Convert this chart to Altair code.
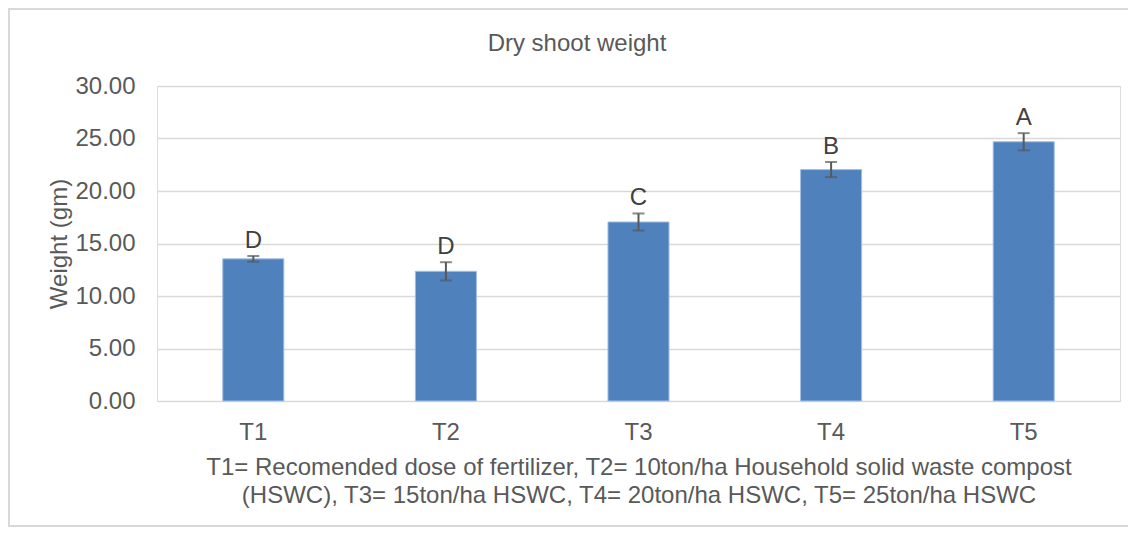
import altair as alt
import pandas as pd

treatments = ["T1", "T2", "T3", "T4", "T5"]
means = [13.54, 12.35, 17.05, 22.04, 24.69]
errors = [0.27, 0.87, 0.81, 0.72, 0.82]
letters = ["D", "D", "C", "B", "A"]
y_ticks = [0, 5, 10, 15, 20, 25, 30]
chart_title = "Dry shoot weight"
footer = [
    "T1= Recomended dose of fertilizer, T2= 10ton/ha Household solid waste compost",
    "(HSWC), T3= 15ton/ha HSWC, T4= 20ton/ha HSWC, T5= 25ton/ha HSWC",
]

df = pd.DataFrame({
    "t": treatments,
    "m": means,
    "e": errors,
    "lab": letters,
})
df["lo"] = df["m"] - df["e"]
df["hi"] = df["m"] + df["e"]

FONT = "Liberation Sans"
GREY = "#595959"
FS = 24

x_enc = alt.X(
    "t:N",
    sort=treatments,
    scale=alt.Scale(paddingInner=0.683, paddingOuter=0.3415),
    axis=alt.Axis(
        title=footer,
        labelAngle=0,
        ticks=False,
        domain=False,
        labelFontSize=FS,
        labelColor=GREY,
        labelFont=FONT,
        labelPadding=19,
        titleFontSize=FS,
        titleColor=GREY,
        titleFont=FONT,
        titleFontWeight="normal",
        titlePadding=11,
        titleLineHeight=28,
    ),
)
y_scale = alt.Scale(domain=[0, 30], nice=False)

base = alt.Chart(df)

bars = base.mark_bar(color="#4f81bd", stroke="#a3bfe3", strokeWidth=1).encode(
    x=x_enc,
    y=alt.Y(
        "m:Q",
        scale=y_scale,
        axis=alt.Axis(
            title="Weight (gm)",
            values=y_ticks,
            format=".2f",
            ticks=False,
            domain=False,
            grid=True,
            gridColor="#d9d9d9",
            gridWidth=1.3,
            labelFontSize=FS,
            labelColor=GREY,
            labelFont=FONT,
            labelPadding=22,
            titleFontSize=FS,
            titleColor=GREY,
            titleFont=FONT,
            titleFontWeight="normal",
            titlePadding=3,
        ),
    ),
)

rules = base.mark_rule(color=GREY, strokeWidth=2).encode(
    x=alt.X("t:N", sort=treatments),
    y=alt.Y("lo:Q", scale=y_scale),
    y2="hi:Q",
)
cap_hi = base.mark_tick(color=GREY, size=12, thickness=2).encode(
    x=alt.X("t:N", sort=treatments),
    y=alt.Y("hi:Q", scale=y_scale),
)
cap_lo = base.mark_tick(color=GREY, size=12, thickness=2).encode(
    x=alt.X("t:N", sort=treatments),
    y=alt.Y("lo:Q", scale=y_scale),
)
text = base.mark_text(
    fontSize=FS, font=FONT, color="#404040", baseline="alphabetic", dy=-8
).encode(
    x=alt.X("t:N", sort=treatments),
    y=alt.Y("hi:Q", scale=y_scale),
    text="lab:N",
)

title_mark = alt.Chart(alt.Data(values=[{"txt": chart_title}])).mark_text(
    fontSize=FS, font=FONT, color=GREY, baseline="alphabetic", align="center"
).encode(
    x=alt.value(420),
    y=alt.value(-35),
    text="txt:N",
)

border = alt.Chart(alt.Data(values=[{"a": 1}])).mark_rect(
    filled=False, stroke="#d9d9d9", strokeWidth=2
).encode(
    x=alt.value(-148),
    x2=alt.value(1100),
    y=alt.value(-77),
    y2=alt.value(440),
)

chart = alt.layer(bars, rules, cap_hi, cap_lo, text, title_mark, border).properties(
    width=963,
    height=315,
    autosize=alt.AutoSizeParams(type="none"),
    padding={"left": 149, "top": 78, "right": 8, "bottom": 126},
).configure_view(strokeWidth=0).configure(background="white")

chart.save("out.html", embed_options={"renderer": "svg", "actions": False})
